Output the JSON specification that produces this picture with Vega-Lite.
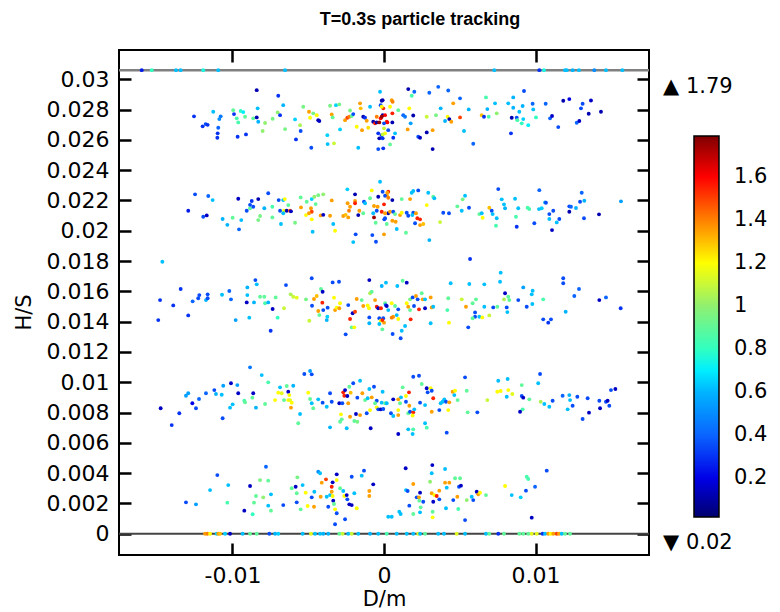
{
"$schema": "https://vega.github.io/schema/vega-lite/v6.json",
"width": 530, "height": 505,
"autosize": {"type": "none"},
"padding": {"left": 119, "top": 50, "right": 131, "bottom": 57},
"background": "white",
"title": {"text": "T=0.3s  particle tracking", "font": "Liberation Sans", "fontSize": 18, "fontWeight": "bold", "color": "black", "anchor": "middle", "dx": 36, "offset": 21},
"config": {
  "view": {"stroke": "black", "strokeWidth": 2},
  "axis": {"labelFont": "DejaVu Sans", "labelFontSize": 22, "labelColor": "black", "titleFont": "DejaVu Sans", "titleFontSize": 21, "titleFontWeight": "normal", "titleColor": "black", "domain": false}
},
"resolve": {"axis": {"x": "independent", "y": "independent"}},
"datasets": {"pts": [
{"x":-0.01599,"y":0.0306,"v":0.25},{"x":-0.01533,"y":0.0306,"v":0.8},{"x":-0.01373,"y":0.0306,"v":0.62},{"x":-0.01342,"y":0.0306,"v":0.62},{"x":-0.01193,"y":0.0306,"v":0.75},{"x":-0.01094,"y":0.0306,"v":0.62},{"x":-0.00653,"y":0.0306,"v":0.62},{"x":0.00728,"y":0.0306,"v":0.62},{"x":0.01025,"y":0.0306,"v":0.3},{"x":0.01056,"y":0.0306,"v":0.75},{"x":0.01195,"y":0.0306,"v":0.62},{"x":0.01206,"y":0.0306,"v":0.62},{"x":0.01245,"y":0.0306,"v":0.6},{"x":0.01287,"y":0.0306,"v":0.62},{"x":0.01388,"y":0.0306,"v":0.5},{"x":0.01465,"y":0.0306,"v":0.62},{"x":0.01573,"y":0.0306,"v":0.62},
{"x":-0.01181,"y":0,"v":1.35},{"x":-0.01166,"y":0,"v":1.4},{"x":-0.01148,"y":0,"v":1.2},{"x":-0.01104,"y":0,"v":0.65},{"x":-0.01094,"y":0,"v":1.35},{"x":-0.01082,"y":0,"v":1.3},{"x":-0.01049,"y":0,"v":0.65},{"x":-0.01016,"y":0,"v":0.15},{"x":-0.00933,"y":0,"v":0.62},{"x":-0.00884,"y":0,"v":0.9},{"x":-0.0084,"y":0,"v":0.9},{"x":-0.00757,"y":0,"v":0.35},{"x":-0.00719,"y":0,"v":0.6},{"x":-0.00698,"y":0,"v":0.65},{"x":-0.00537,"y":0,"v":0.62},{"x":-0.00482,"y":0,"v":1.15},{"x":-0.00455,"y":0,"v":0.62},{"x":-0.00422,"y":0,"v":0.62},{"x":-0.00401,"y":0,"v":0.6},{"x":-0.00368,"y":0,"v":0.6},{"x":-0.00295,"y":0,"v":0.9},{"x":-0.00273,"y":0,"v":1.1},{"x":-0.00236,"y":0,"v":0.62},{"x":-0.00213,"y":0,"v":1.1},{"x":-0.0017,"y":0,"v":0.62},{"x":-0.00092,"y":0,"v":0.6},{"x":-0.00038,"y":0,"v":0.62},{"x":0.00018,"y":0,"v":0.85},{"x":0.00084,"y":0,"v":0.62},{"x":0.0015,"y":0,"v":0.62},{"x":0.00193,"y":0,"v":0.62},{"x":0.00226,"y":0,"v":1.15},{"x":0.00238,"y":0,"v":0.62},{"x":0.00271,"y":0,"v":0.9},{"x":0.00358,"y":0,"v":0.62},{"x":0.00396,"y":0,"v":0.62},{"x":0.0048,"y":0,"v":1.15},{"x":0.00535,"y":0,"v":0.62},{"x":0.00673,"y":0,"v":0.62},{"x":0.00695,"y":0,"v":0.9},{"x":0.00754,"y":0,"v":0.3},{"x":0.00792,"y":0,"v":0.9},{"x":0.00893,"y":0,"v":0.9},{"x":0.00919,"y":0,"v":0.9},{"x":0.00952,"y":0,"v":0.9},{"x":0.00975,"y":0,"v":1.15},{"x":0.01008,"y":0,"v":1.15},{"x":0.01047,"y":0,"v":0.3},{"x":0.01063,"y":0,"v":0.62},{"x":0.01084,"y":0,"v":1.35},{"x":0.011,"y":0,"v":1.2},{"x":0.01117,"y":0,"v":1.35},{"x":0.0114,"y":0,"v":1.5},{"x":0.01155,"y":0,"v":1.35},{"x":0.01173,"y":0,"v":0.62},{"x":0.01195,"y":0,"v":0.9},{"x":0.01228,"y":0,"v":0.9},
{"x":-0.0084,"y":0.02928,"v":0.12},{"x":-0.00698,"y":0.02891,"v":0.3},{"x":-0.01254,"y":0.02755,"v":0.3},{"x":-0.01197,"y":0.02689,"v":0.3},{"x":-0.01177,"y":0.02704,"v":0.35},{"x":-0.01164,"y":0.02699,"v":0.3},{"x":-0.01127,"y":0.02785,"v":0.62},{"x":-0.01094,"y":0.0268,"v":0.4},{"x":-0.01098,"y":0.02643,"v":0.3},{"x":-0.011,"y":0.02614,"v":0.3},{"x":-0.01087,"y":0.02737,"v":0.5},{"x":-0.01078,"y":0.02755,"v":0.45},{"x":-0.00995,"y":0.02796,"v":0.9},{"x":-0.0099,"y":0.0277,"v":0.3},{"x":-0.00972,"y":0.02742,"v":0.85},{"x":-0.00962,"y":0.02715,"v":0.85},{"x":-0.00966,"y":0.0262,"v":0.3},{"x":-0.00946,"y":0.0279,"v":0.8},{"x":-0.00929,"y":0.02783,"v":0.7},{"x":-0.00911,"y":0.02636,"v":0.3},{"x":-0.00917,"y":0.02752,"v":0.9},{"x":-0.00863,"y":0.02742,"v":0.9},{"x":-0.0084,"y":0.02748,"v":0.12},{"x":-0.00834,"y":0.02808,"v":0.62},{"x":-0.0083,"y":0.02719,"v":0.6},{"x":-0.00801,"y":0.02658,"v":1.0},{"x":-0.00785,"y":0.02711,"v":1.0},{"x":-0.00735,"y":0.02739,"v":0.95},{"x":-0.00702,"y":0.02781,"v":1.0},{"x":-0.00686,"y":0.02763,"v":0.3},{"x":-0.00665,"y":0.02829,"v":0.6},{"x":-0.00653,"y":0.02671,"v":0.95},{"x":-0.00587,"y":0.02735,"v":0.65},{"x":-0.00581,"y":0.02603,"v":0.3},{"x":-0.00554,"y":0.02697,"v":1.05},{"x":-0.0055,"y":0.02658,"v":0.35},{"x":-0.00533,"y":0.02818,"v":0.95},{"x":-0.00495,"y":0.02785,"v":1.35},{"x":-0.00488,"y":0.02746,"v":1.2},{"x":-0.0048,"y":0.02548,"v":0.35},{"x":-0.00467,"y":0.02775,"v":0.95},{"x":-0.00444,"y":0.02763,"v":1.2},{"x":-0.00434,"y":0.0273,"v":0.12},{"x":-0.00427,"y":0.02724,"v":0.15},{"x":-0.00374,"y":0.02631,"v":0.65},{"x":-0.00372,"y":0.02572,"v":0.62},{"x":-0.00356,"y":0.02825,"v":0.95},{"x":-0.00345,"y":0.02768,"v":1.35},{"x":-0.00339,"y":0.02748,"v":0.9},{"x":-0.0033,"y":0.02577,"v":1.1},{"x":-0.00317,"y":0.02829,"v":0.65},{"x":-0.00295,"y":0.02834,"v":0.95},{"x":-0.0029,"y":0.02669,"v":0.65},{"x":-0.00257,"y":0.0273,"v":1.35},{"x":-0.00242,"y":0.02746,"v":1.5},{"x":-0.00229,"y":0.02752,"v":1.4},{"x":-0.00224,"y":0.02794,"v":0.95},{"x":-0.00213,"y":0.02757,"v":0.9},{"x":-0.00203,"y":0.0277,"v":0.35},{"x":-0.0018,"y":0.02686,"v":1.2},{"x":-0.0017,"y":0.02548,"v":0.62},{"x":-0.00158,"y":0.02841,"v":1.35},{"x":-0.00154,"y":0.02808,"v":1.3},{"x":-0.00145,"y":0.02664,"v":1.35},{"x":-0.00137,"y":0.02752,"v":0.12},{"x":-0.00125,"y":0.02746,"v":0.3},{"x":-0.00114,"y":0.02726,"v":1.35},{"x":-0.00104,"y":0.0268,"v":1.25},{"x":-0.00092,"y":0.02818,"v":0.62},{"x":-0.00071,"y":0.02719,"v":0.12},{"x":-0.00059,"y":0.02709,"v":1.55},{"x":-0.00048,"y":0.02715,"v":0.12},{"x":-0.00048,"y":0.02752,"v":1.4},{"x":-0.00038,"y":0.02643,"v":0.3},{"x":-0.00031,"y":0.0261,"v":0.12},{"x":-0.00026,"y":0.02917,"v":0.62},{"x":-0.00022,"y":0.02829,"v":0.35},{"x":-0.00015,"y":0.02858,"v":0.12},{"x":-0.00005,"y":0.02808,"v":1.55},{"x":-0.00009,"y":0.02763,"v":0.12},{"x":-0.00022,"y":0.02742,"v":1.6},{"x":-0.00031,"y":0.02715,"v":1.75},{"x":-0.00038,"y":0.02539,"v":0.35},{"x":-0.00005,"y":0.02544,"v":0.3},{"x":0.0,"y":0.02676,"v":1.1},{"x":-0.00015,"y":0.02631,"v":0.3},{"x":0.00007,"y":0.02643,"v":1.2},{"x":0.00018,"y":0.02719,"v":1.55},{"x":-0.00009,"y":0.02862,"v":0.12},{"x":-0.00015,"y":0.02818,"v":1.2},{"x":0.00051,"y":0.02862,"v":1.35},{"x":0.00057,"y":0.02851,"v":1.4},{"x":0.0004,"y":0.02818,"v":1.2},{"x":0.00007,"y":0.02763,"v":1.6},{"x":-0.00015,"y":0.02752,"v":1.75},{"x":0.00055,"y":0.02775,"v":1.55},{"x":0.00022,"y":0.02715,"v":1.6},{"x":0.00055,"y":0.02715,"v":0.12},{"x":0.0,"y":0.02709,"v":0.35},{"x":-0.00009,"y":0.02636,"v":1.1},{"x":0.00028,"y":0.02664,"v":0.35},{"x":0.00073,"y":0.02643,"v":0.62},{"x":0.00061,"y":0.02614,"v":0.3},{"x":0.0004,"y":0.0257,"v":0.9},{"x":-0.00009,"y":0.0261,"v":0.3},{"x":0.00094,"y":0.02796,"v":0.9},{"x":0.00127,"y":0.02763,"v":0.4},{"x":0.00139,"y":0.02752,"v":0.45},{"x":0.0016,"y":0.02935,"v":0.12},{"x":0.00183,"y":0.02891,"v":0.85},{"x":0.002,"y":0.02917,"v":0.4},{"x":0.00167,"y":0.02808,"v":1.2},{"x":0.00193,"y":0.02761,"v":0.12},{"x":0.00176,"y":0.02709,"v":0.55},{"x":0.00156,"y":0.02669,"v":1.35},{"x":0.00226,"y":0.0262,"v":0.35},{"x":0.00238,"y":0.02614,"v":0.15},{"x":0.00282,"y":0.02649,"v":0.12},{"x":0.00321,"y":0.02664,"v":1.35},{"x":0.00321,"y":0.02539,"v":0.12},{"x":0.00282,"y":0.02752,"v":1.1},{"x":0.00299,"y":0.02911,"v":0.4},{"x":0.00343,"y":0.02763,"v":0.95},{"x":0.00358,"y":0.0295,"v":0.4},{"x":0.00374,"y":0.02808,"v":0.6},{"x":0.00403,"y":0.02724,"v":0.6},{"x":0.0042,"y":0.02752,"v":1.2},{"x":0.00431,"y":0.02737,"v":0.12},{"x":0.00444,"y":0.02719,"v":1.35},{"x":0.00424,"y":0.02926,"v":0.4},{"x":0.00457,"y":0.02841,"v":1.35},{"x":0.00502,"y":0.02874,"v":0.4},{"x":0.00502,"y":0.02748,"v":1.5},{"x":0.00528,"y":0.02658,"v":0.62},{"x":0.00559,"y":0.02801,"v":0.6},{"x":0.00589,"y":0.02574,"v":0.4},{"x":0.00645,"y":0.02763,"v":1.3},{"x":0.0066,"y":0.02752,"v":0.3},{"x":0.00673,"y":0.0288,"v":0.85},{"x":0.00682,"y":0.02803,"v":0.6},{"x":0.00691,"y":0.02752,"v":0.85},{"x":0.00733,"y":0.02841,"v":0.62},{"x":0.00744,"y":0.02775,"v":1.0},{"x":0.0082,"y":0.02841,"v":0.62},{"x":0.00843,"y":0.02746,"v":0.12},{"x":0.00838,"y":0.02643,"v":0.3},{"x":0.00853,"y":0.0288,"v":0.6},{"x":0.00853,"y":0.02812,"v":0.6},{"x":0.00876,"y":0.02746,"v":0.35},{"x":0.0088,"y":0.0273,"v":0.85},{"x":0.00893,"y":0.02785,"v":0.62},{"x":0.00909,"y":0.02709,"v":0.8},{"x":0.00915,"y":0.02823,"v":0.6},{"x":0.00919,"y":0.02737,"v":0.65},{"x":0.00924,"y":0.02922,"v":0.35},{"x":0.00952,"y":0.02697,"v":0.7},{"x":0.00981,"y":0.02838,"v":0.4},{"x":0.00985,"y":0.02801,"v":0.62},{"x":0.01003,"y":0.02748,"v":0.8},{"x":0.01067,"y":0.02838,"v":0.4},{"x":0.01096,"y":0.02742,"v":0.4},{"x":0.01109,"y":0.02757,"v":0.15},{"x":0.0115,"y":0.02684,"v":0.35},{"x":0.01183,"y":0.02858,"v":0.12},{"x":0.01223,"y":0.02869,"v":0.2},{"x":0.01272,"y":0.02713,"v":0.4},{"x":0.01289,"y":0.02724,"v":0.15},{"x":0.013,"y":0.02808,"v":0.35},{"x":0.01311,"y":0.02838,"v":0.35},{"x":0.01351,"y":0.02772,"v":0.12},{"x":0.01366,"y":0.0286,"v":0.15},{"x":0.01432,"y":0.02785,"v":0.12},
{"x":-0.01247,"y":0.0224,"v":0.35},{"x":-0.0116,"y":0.02229,"v":0.4},{"x":-0.01131,"y":0.02202,"v":0.62},{"x":-0.01292,"y":0.02132,"v":0.25},{"x":-0.00962,"y":0.02211,"v":0.15},{"x":-0.00906,"y":0.02132,"v":0.35},{"x":-0.00884,"y":0.02148,"v":0.9},{"x":-0.00873,"y":0.02196,"v":0.3},{"x":-0.00863,"y":0.02158,"v":0.35},{"x":-0.0083,"y":0.02209,"v":0.12},{"x":-0.0079,"y":0.02148,"v":0.6},{"x":-0.00764,"y":0.02247,"v":0.35},{"x":-0.00737,"y":0.02158,"v":0.85},{"x":-0.00695,"y":0.02202,"v":0.35},{"x":-0.00665,"y":0.02202,"v":0.62},{"x":-0.00655,"y":0.02209,"v":1.2},{"x":-0.00686,"y":0.02132,"v":0.35},{"x":-0.0066,"y":0.02132,"v":1.2},{"x":-0.00642,"y":0.02132,"v":0.12},{"x":-0.0062,"y":0.02132,"v":1.5},{"x":-0.0055,"y":0.0222,"v":0.9},{"x":-0.00548,"y":0.02154,"v":1.35},{"x":-0.0051,"y":0.02191,"v":0.9},{"x":-0.00477,"y":0.02209,"v":0.65},{"x":-0.00482,"y":0.02148,"v":1.35},{"x":-0.0046,"y":0.02224,"v":1.0},{"x":-0.00477,"y":0.02125,"v":1.5},{"x":-0.00434,"y":0.02235,"v":0.95},{"x":-0.00401,"y":0.0224,"v":1.0},{"x":-0.00345,"y":0.022,"v":1.35},{"x":-0.00242,"y":0.02273,"v":0.65},{"x":-0.0024,"y":0.02181,"v":1.35},{"x":-0.00231,"y":0.02132,"v":1.4},{"x":-0.00191,"y":0.0224,"v":0.12},{"x":-0.00191,"y":0.02196,"v":1.35},{"x":-0.00163,"y":0.02132,"v":1.35},{"x":-0.00132,"y":0.02191,"v":0.35},{"x":-0.00092,"y":0.02214,"v":0.9},{"x":-0.00081,"y":0.02266,"v":1.2},{"x":-0.00066,"y":0.02163,"v":1.35},{"x":-0.00038,"y":0.02224,"v":0.12},{"x":-0.00026,"y":0.02323,"v":0.62},{"x":-0.00009,"y":0.02257,"v":0.35},{"x":0.0,"y":0.02174,"v":1.55},{"x":0.00018,"y":0.02235,"v":1.35},{"x":0.00028,"y":0.02257,"v":1.55},{"x":-0.00048,"y":0.02132,"v":0.35},
{"x":-0.01193,"y":0.02092,"v":0.35},{"x":-0.0117,"y":0.02101,"v":0.15},{"x":-0.01065,"y":0.02077,"v":0.6},{"x":-0.01034,"y":0.02039,"v":0.6},{"x":-0.00999,"y":0.02086,"v":0.9},{"x":-0.00957,"y":0.02009,"v":0.4},{"x":-0.00942,"y":0.0207,"v":0.62},{"x":-0.00884,"y":0.02171,"v":0.35},{"x":-0.0083,"y":0.0207,"v":0.95},{"x":-0.00818,"y":0.02097,"v":0.95},{"x":-0.00737,"y":0.02088,"v":0.9},{"x":-0.0068,"y":0.02044,"v":0.62},{"x":-0.00665,"y":0.02115,"v":0.62},{"x":-0.00632,"y":0.02169,"v":0.9},{"x":-0.00614,"y":0.02128,"v":0.15},{"x":-0.00587,"y":0.02053,"v":0.95},{"x":-0.00515,"y":0.02103,"v":1.2},{"x":-0.00495,"y":0.02115,"v":1.35},{"x":-0.00477,"y":0.02075,"v":1.2},{"x":-0.00471,"y":0.01993,"v":0.62},{"x":-0.00451,"y":0.02176,"v":0.9},{"x":-0.00418,"y":0.02101,"v":1.35},{"x":-0.00401,"y":0.02105,"v":0.15},{"x":-0.00356,"y":0.02099,"v":1.35},{"x":-0.00335,"y":0.02044,"v":0.62},{"x":-0.00323,"y":0.02,"v":1.2},{"x":-0.00269,"y":0.02097,"v":1.35},{"x":-0.00253,"y":0.02105,"v":1.3},{"x":-0.00236,"y":0.02088,"v":1.35},{"x":-0.00224,"y":0.02158,"v":1.35},{"x":-0.00191,"y":0.02181,"v":1.55},{"x":-0.00187,"y":0.01976,"v":0.35},{"x":-0.00203,"y":0.01925,"v":0.62},{"x":-0.0017,"y":0.02103,"v":0.12},{"x":-0.00137,"y":0.02115,"v":0.9},{"x":-0.00125,"y":0.02181,"v":0.62},{"x":-0.00077,"y":0.01971,"v":0.35},{"x":-0.00071,"y":0.02115,"v":0.62},{"x":-0.00066,"y":0.02088,"v":1.75},{"x":-0.00053,"y":0.01927,"v":0.35},{"x":-0.00055,"y":0.02053,"v":0.9},{"x":-0.00042,"y":0.02158,"v":1.35},{"x":0.0,"y":0.01976,"v":1.35},{"x":0.00002,"y":0.02075,"v":0.35},{"x":0.00028,"y":0.02115,"v":0.12},{"x":0.00018,"y":0.02044,"v":0.9},
{"x":0.00007,"y":0.02231,"v":0.35},{"x":0.00022,"y":0.02251,"v":1.35},{"x":0.00028,"y":0.02218,"v":1.4},{"x":0.00055,"y":0.02202,"v":0.12},{"x":0.00117,"y":0.02209,"v":0.9},{"x":0.00172,"y":0.02209,"v":1.35},{"x":0.00183,"y":0.02251,"v":0.62},{"x":0.00193,"y":0.02262,"v":0.62},{"x":0.00226,"y":0.02266,"v":0.35},{"x":0.00292,"y":0.02251,"v":0.62},{"x":0.00325,"y":0.02224,"v":0.9},{"x":0.00332,"y":0.02214,"v":0.62},{"x":0.00282,"y":0.02169,"v":1.2},{"x":0.00535,"y":0.02231,"v":0.62},{"x":0.00519,"y":0.02207,"v":0.95},{"x":0.00484,"y":0.02161,"v":0.9},{"x":0.00561,"y":0.02152,"v":0.35},{"x":0.00513,"y":0.02132,"v":0.62},{"x":0.00754,"y":0.02275,"v":0.35},{"x":0.00777,"y":0.02207,"v":0.62},{"x":0.00792,"y":0.02174,"v":0.62},{"x":0.00799,"y":0.02148,"v":0.6},{"x":0.00695,"y":0.02152,"v":1.3},{"x":0.00711,"y":0.02132,"v":0.35},{"x":0.00865,"y":0.02211,"v":0.62},{"x":0.00886,"y":0.02148,"v":0.62},{"x":0.00948,"y":0.02152,"v":0.85},{"x":0.01025,"y":0.02268,"v":0.4},{"x":0.01041,"y":0.02148,"v":0.65},{"x":0.01063,"y":0.02187,"v":0.6},{"x":0.01117,"y":0.02132,"v":0.35},{"x":0.01223,"y":0.02161,"v":0.35},{"x":0.01234,"y":0.02158,"v":0.4},{"x":0.01267,"y":0.0215,"v":0.6},{"x":0.01294,"y":0.02191,"v":0.35},{"x":0.01305,"y":0.02251,"v":0.4},{"x":0.01322,"y":0.02198,"v":0.6},{"x":0.01419,"y":0.02108,"v":0.12},{"x":0.01564,"y":0.02194,"v":0.55},{"x":0.00391,"y":0.02119,"v":0.35},{"x":0.00429,"y":0.02115,"v":0.35},{"x":0.0015,"y":0.02119,"v":0.35},{"x":0.00193,"y":0.02119,"v":0.35},{"x":0.0004,"y":0.02125,"v":1.35},{"x":0.00061,"y":0.02125,"v":0.35},
{"x":-0.00015,"y":0.02125,"v":1.55},{"x":0.00007,"y":0.02115,"v":1.35},{"x":0.00073,"y":0.0211,"v":0.9},{"x":0.00007,"y":0.02082,"v":0.35},{"x":0.00055,"y":0.02066,"v":1.35},{"x":0.00077,"y":0.02059,"v":1.35},{"x":0.00084,"y":0.02011,"v":0.62},{"x":0.00106,"y":0.02103,"v":1.35},{"x":0.00117,"y":0.02119,"v":1.2},{"x":0.00145,"y":0.01987,"v":0.9},{"x":0.0016,"y":0.02099,"v":0.35},{"x":0.00187,"y":0.02103,"v":0.62},{"x":0.00205,"y":0.02049,"v":0.35},{"x":0.00211,"y":0.02115,"v":1.35},{"x":0.0022,"y":0.02082,"v":1.55},{"x":0.00238,"y":0.02075,"v":1.55},{"x":0.00238,"y":0.02037,"v":1.35},{"x":0.00259,"y":0.02044,"v":1.3},{"x":0.00299,"y":0.01938,"v":0.6},{"x":0.0037,"y":0.02057,"v":1.1},{"x":0.00629,"y":0.0211,"v":0.9},{"x":0.00645,"y":0.02115,"v":0.62},{"x":0.00651,"y":0.02086,"v":1.2},{"x":0.00717,"y":0.0211,"v":0.62},{"x":0.00739,"y":0.02033,"v":0.85},{"x":0.00744,"y":0.02082,"v":0.62},{"x":0.00871,"y":0.02092,"v":0.85},{"x":0.00876,"y":0.02026,"v":0.3},{"x":0.00959,"y":0.02143,"v":0.85},{"x":0.00992,"y":0.02049,"v":0.35},{"x":0.01023,"y":0.02143,"v":0.62},{"x":0.01069,"y":0.02185,"v":0.35},{"x":0.01091,"y":0.0211,"v":0.35},{"x":0.01091,"y":0.02077,"v":0.62},{"x":0.0114,"y":0.02055,"v":0.62},{"x":0.01157,"y":0.02077,"v":0.35},{"x":0.01109,"y":0.02004,"v":0.15},{"x":0.01223,"y":0.02125,"v":0.12},{"x":0.0132,"y":0.02082,"v":0.35},
{"x":-0.01463,"y":0.01795,"v":0.62},{"x":-0.01478,"y":0.01542,"v":0.3},{"x":-0.0149,"y":0.0141,"v":0.3},{"x":-0.01391,"y":0.01507,"v":0.3},{"x":-0.01342,"y":0.01615,"v":0.3},{"x":-0.01292,"y":0.01441,"v":0.3},{"x":-0.01263,"y":0.01534,"v":0.4},{"x":-0.01226,"y":0.01554,"v":0.35},{"x":-0.01219,"y":0.01575,"v":0.35},{"x":-0.01175,"y":0.01542,"v":0.6},{"x":-0.01164,"y":0.0158,"v":0.35},{"x":-0.01164,"y":0.01554,"v":0.35},{"x":-0.01069,"y":0.01577,"v":0.62},{"x":-0.01021,"y":0.01602,"v":0.4},{"x":-0.0101,"y":0.01547,"v":0.4},{"x":-0.00979,"y":0.0141,"v":0.55},{"x":-0.00906,"y":0.01527,"v":0.15},{"x":-0.00902,"y":0.01626,"v":0.6},{"x":-0.00902,"y":0.01575,"v":0.62},{"x":-0.00889,"y":0.01426,"v":0.62},{"x":-0.00849,"y":0.01674,"v":0.35},{"x":-0.0084,"y":0.01646,"v":0.62},{"x":-0.00858,"y":0.01527,"v":0.6},{"x":-0.00818,"y":0.01564,"v":0.9},{"x":-0.0079,"y":0.01564,"v":0.9},{"x":-0.00785,"y":0.01521,"v":0.85},{"x":-0.00764,"y":0.01527,"v":0.6},{"x":-0.00735,"y":0.01483,"v":0.15},{"x":-0.00748,"y":0.0134,"v":0.3},{"x":-0.00715,"y":0.0156,"v":0.9},{"x":-0.00702,"y":0.01426,"v":0.8},{"x":-0.0066,"y":0.01488,"v":1.1},{"x":-0.00647,"y":0.01641,"v":0.35},{"x":-0.00616,"y":0.0158,"v":1.05},{"x":-0.00599,"y":0.01564,"v":1.1},{"x":-0.00576,"y":0.01558,"v":1.15},{"x":-0.00515,"y":0.01547,"v":0.95},{"x":-0.00493,"y":0.01406,"v":1.1},{"x":-0.00477,"y":0.01686,"v":0.35},{"x":-0.00475,"y":0.01505,"v":0.35},{"x":-0.00462,"y":0.01549,"v":1.35},{"x":-0.00444,"y":0.01569,"v":1.3},{"x":-0.00434,"y":0.0147,"v":1.35},{"x":-0.00427,"y":0.01443,"v":0.9},{"x":-0.00416,"y":0.01615,"v":0.9},{"x":-0.00407,"y":0.01525,"v":1.55},{"x":-0.00405,"y":0.01597,"v":0.15},{"x":-0.00401,"y":0.01476,"v":0.35},{"x":-0.00378,"y":0.0141,"v":0.6},{"x":-0.00374,"y":0.01432,"v":0.65},{"x":-0.00372,"y":0.01492,"v":0.35},{"x":-0.00339,"y":0.01659,"v":0.35},{"x":-0.0033,"y":0.01558,"v":1.2},{"x":-0.00323,"y":0.01476,"v":1.35},{"x":-0.00312,"y":0.01492,"v":1.2},{"x":-0.00297,"y":0.01663,"v":0.35},{"x":-0.00295,"y":0.01488,"v":1.35},{"x":-0.0029,"y":0.01521,"v":1.2},{"x":-0.00253,"y":0.01316,"v":0.35},{"x":-0.00236,"y":0.01509,"v":0.35},{"x":-0.00224,"y":0.01417,"v":1.55},{"x":-0.00213,"y":0.01362,"v":0.9},{"x":-0.00207,"y":0.01455,"v":0.15},{"x":-0.00196,"y":0.01362,"v":1.2},{"x":-0.00191,"y":0.01465,"v":1.5},{"x":-0.0018,"y":0.01549,"v":1.35},{"x":-0.00147,"y":0.01542,"v":0.9},{"x":-0.00137,"y":0.01503,"v":1.35},{"x":-0.00108,"y":0.01507,"v":1.2},{"x":-0.00099,"y":0.01488,"v":1.2},{"x":-0.00097,"y":0.01674,"v":0.15},{"x":-0.00097,"y":0.01428,"v":0.35},{"x":-0.00097,"y":0.01389,"v":0.6},{"x":-0.00092,"y":0.01587,"v":1.05},{"x":-0.00081,"y":0.01597,"v":0.9},{"x":-0.00059,"y":0.01542,"v":1.35},{"x":-0.00048,"y":0.01498,"v":1.55},{"x":-0.00038,"y":0.01488,"v":0.15},{"x":-0.00031,"y":0.01422,"v":0.35},{"x":-0.00022,"y":0.01406,"v":1.2},{"x":-0.00031,"y":0.01384,"v":0.62},{"x":-0.00011,"y":0.01349,"v":0.9},{"x":-0.00005,"y":0.01422,"v":0.35},{"x":0.0,"y":0.01393,"v":1.35},{"x":0.00007,"y":0.01521,"v":0.9},{"x":0.00013,"y":0.01657,"v":0.62},{"x":0.00011,"y":0.01509,"v":0.35},{"x":0.00028,"y":0.01476,"v":0.62},
{"x":0.00568,"y":0.01813,"v":0.3},{"x":0.0077,"y":0.01723,"v":0.62},{"x":0.00766,"y":0.01663,"v":0.62},{"x":-0.00015,"y":0.01635,"v":0.6},{"x":0.00088,"y":0.01635,"v":0.62},{"x":0.00123,"y":0.0167,"v":0.9},{"x":0.0015,"y":0.01657,"v":0.15},{"x":0.0044,"y":0.01653,"v":0.62},{"x":0.00563,"y":0.01648,"v":0.62},{"x":0.00662,"y":0.01646,"v":0.62},{"x":0.01183,"y":0.01686,"v":0.35},{"x":0.01183,"y":0.01653,"v":0.35},{"x":0.01287,"y":0.01615,"v":0.4},{"x":0.00919,"y":0.01626,"v":0.55},{"x":0.00981,"y":0.01604,"v":0.62},{"x":0.00975,"y":0.0158,"v":0.62},{"x":0.00799,"y":0.01587,"v":0.15},{"x":0.0082,"y":0.01564,"v":0.9},{"x":0.00827,"y":0.01542,"v":0.9},{"x":0.00886,"y":0.01542,"v":0.35},{"x":0.00792,"y":0.01547,"v":1.05},{"x":0.01256,"y":0.01569,"v":0.4},{"x":0.01465,"y":0.0156,"v":0.4},{"x":0.01421,"y":0.01542,"v":0.15},{"x":0.01562,"y":0.01488,"v":0.3},{"x":0.01199,"y":0.01465,"v":0.6},{"x":0.01051,"y":0.01547,"v":0.85},{"x":0.00942,"y":0.01498,"v":0.35},{"x":0.00979,"y":0.01516,"v":0.62},{"x":0.00018,"y":0.01503,"v":0.15},{"x":-0.0002,"y":0.01488,"v":1.55},{"x":0.00051,"y":0.01521,"v":1.2},{"x":0.00073,"y":0.01503,"v":0.9},{"x":0.00094,"y":0.01481,"v":0.35},{"x":0.00084,"y":0.01443,"v":0.62},{"x":0.00061,"y":0.01432,"v":1.35},{"x":0.00051,"y":0.01426,"v":1.4},{"x":0.00094,"y":0.01417,"v":1.2},{"x":-0.00011,"y":0.0141,"v":1.55},{"x":0.00057,"y":0.01318,"v":0.35},{"x":0.0011,"y":0.0129,"v":0.35},{"x":0.00117,"y":0.0134,"v":0.62},{"x":0.00139,"y":0.01371,"v":0.62},{"x":0.0015,"y":0.01521,"v":1.2},{"x":0.0016,"y":0.01498,"v":1.35},{"x":0.00172,"y":0.01547,"v":0.95},{"x":0.00189,"y":0.0156,"v":0.35},{"x":0.00198,"y":0.01503,"v":0.35},{"x":0.00172,"y":0.01476,"v":0.9},{"x":0.00176,"y":0.01415,"v":1.55},{"x":0.00211,"y":0.01569,"v":1.35},{"x":0.00222,"y":0.01547,"v":0.35},{"x":0.00231,"y":0.01481,"v":1.55},{"x":0.00249,"y":0.01587,"v":0.9},{"x":0.00255,"y":0.01547,"v":1.35},{"x":0.00271,"y":0.01547,"v":0.62},{"x":0.00271,"y":0.01488,"v":0.15},{"x":0.00308,"y":0.0156,"v":1.35},{"x":0.00315,"y":0.01494,"v":1.35},{"x":0.00325,"y":0.01498,"v":0.62},{"x":0.00308,"y":0.01389,"v":0.62},{"x":0.00424,"y":0.01554,"v":0.9},{"x":0.00418,"y":0.01476,"v":0.85},{"x":0.00429,"y":0.01393,"v":1.2},{"x":0.00513,"y":0.01547,"v":1.1},{"x":0.00541,"y":0.01498,"v":1.35},{"x":0.00585,"y":0.01521,"v":0.9},{"x":0.00607,"y":0.01547,"v":0.9},{"x":0.00601,"y":0.01461,"v":0.35},{"x":0.00601,"y":0.01432,"v":0.35},{"x":0.00585,"y":0.01422,"v":0.9},{"x":0.00629,"y":0.01432,"v":0.62},{"x":0.00649,"y":0.01428,"v":1.2},{"x":0.00662,"y":0.01498,"v":0.62},{"x":0.00695,"y":0.01441,"v":1.1},{"x":0.00721,"y":0.01494,"v":0.35},{"x":0.00748,"y":0.01498,"v":0.9},{"x":0.0081,"y":0.01494,"v":0.35},{"x":0.00814,"y":0.01463,"v":0.62},{"x":0.00556,"y":0.01362,"v":0.35},{"x":0.01051,"y":0.01415,"v":0.35},{"x":0.01084,"y":0.01393,"v":0.3},{"x":0.01102,"y":0.01415,"v":0.35},
{"x":-0.00884,"y":0.01098,"v":0.45},{"x":-0.00807,"y":0.01047,"v":0.62},{"x":-0.00526,"y":0.01054,"v":0.35},{"x":-0.00488,"y":0.01074,"v":0.55},{"x":-0.00477,"y":0.01052,"v":0.35},{"x":-0.01474,"y":0.00828,"v":0.15},{"x":-0.01401,"y":0.00717,"v":0.3},{"x":-0.01351,"y":0.00795,"v":0.3},{"x":-0.01307,"y":0.00911,"v":0.55},{"x":-0.01292,"y":0.00927,"v":0.55},{"x":-0.01265,"y":0.00861,"v":0.2},{"x":-0.01241,"y":0.00828,"v":0.35},{"x":-0.01221,"y":0.00889,"v":0.4},{"x":-0.01175,"y":0.00927,"v":0.4},{"x":-0.0112,"y":0.00948,"v":0.35},{"x":-0.01109,"y":0.00922,"v":0.6},{"x":-0.01071,"y":0.00917,"v":0.62},{"x":-0.01065,"y":0.00762,"v":0.35},{"x":-0.01061,"y":0.00977,"v":0.55},{"x":-0.0101,"y":0.00993,"v":0.15},{"x":-0.01016,"y":0.00832,"v":0.62},{"x":-0.00999,"y":0.00854,"v":0.62},{"x":-0.00968,"y":0.00981,"v":0.55},{"x":-0.00962,"y":0.00927,"v":0.15},{"x":-0.00922,"y":0.00878,"v":0.85},{"x":-0.00917,"y":0.00867,"v":0.9},{"x":-0.00869,"y":0.00898,"v":0.9},{"x":-0.00863,"y":0.00927,"v":0.15},{"x":-0.00845,"y":0.00832,"v":0.6},{"x":-0.00785,"y":0.00856,"v":0.9},{"x":-0.00764,"y":0.00999,"v":0.85},{"x":-0.00719,"y":0.00882,"v":1.2},{"x":-0.00698,"y":0.00931,"v":1.2},{"x":-0.00686,"y":0.00966,"v":0.62},{"x":-0.00675,"y":0.00927,"v":1.15},{"x":-0.0066,"y":0.00882,"v":0.9},{"x":-0.00642,"y":0.00975,"v":0.9},{"x":-0.00632,"y":0.00937,"v":0.15},{"x":-0.00632,"y":0.00882,"v":1.2},{"x":-0.00625,"y":0.00915,"v":1.2},{"x":-0.0062,"y":0.00882,"v":1.15},{"x":-0.00614,"y":0.00832,"v":1.35},{"x":-0.00609,"y":0.00865,"v":1.2},{"x":-0.00599,"y":0.00977,"v":0.6},{"x":-0.00566,"y":0.00729,"v":0.9},{"x":-0.00554,"y":0.0079,"v":0.62},{"x":-0.005,"y":0.00931,"v":1.2},{"x":-0.00488,"y":0.00889,"v":0.9},{"x":-0.00477,"y":0.00861,"v":0.62},{"x":-0.00467,"y":0.00828,"v":0.9},{"x":-0.00434,"y":0.00887,"v":0.62},{"x":-0.00405,"y":0.00865,"v":0.35},{"x":-0.00378,"y":0.00838,"v":0.62},{"x":-0.00356,"y":0.00927,"v":0.35},{"x":-0.00356,"y":0.00702,"v":0.6},{"x":-0.00345,"y":0.00871,"v":0.35},{"x":-0.00295,"y":0.00861,"v":0.15},{"x":-0.0029,"y":0.00739,"v":0.9},{"x":-0.00284,"y":0.00788,"v":1.2},{"x":-0.00279,"y":0.00755,"v":0.9},{"x":-0.00269,"y":0.00933,"v":1.55},{"x":-0.00262,"y":0.00911,"v":1.55},{"x":-0.00275,"y":0.00861,"v":0.35},{"x":-0.00257,"y":0.00948,"v":0.15},{"x":-0.00246,"y":0.00696,"v":0.62},{"x":-0.00242,"y":0.00909,"v":0.15},{"x":-0.00236,"y":0.00861,"v":1.35},{"x":-0.00229,"y":0.0097,"v":0.9},{"x":-0.00224,"y":0.00772,"v":1.35},{"x":-0.0022,"y":0.00931,"v":1.3},{"x":-0.00203,"y":0.00993,"v":0.35},{"x":-0.00196,"y":0.00744,"v":0.9},{"x":-0.00185,"y":0.0079,"v":0.15},{"x":-0.00176,"y":0.00739,"v":0.95},{"x":-0.00176,"y":0.00898,"v":0.35},{"x":-0.00158,"y":0.0101,"v":0.62},{"x":-0.00158,"y":0.00783,"v":1.35},{"x":-0.00143,"y":0.00927,"v":1.35},{"x":-0.00125,"y":0.00882,"v":0.9},{"x":-0.00114,"y":0.00795,"v":0.35},{"x":-0.00108,"y":0.00894,"v":0.62},{"x":-0.00097,"y":0.00955,"v":0.62},{"x":-0.00092,"y":0.00816,"v":1.2},{"x":-0.00088,"y":0.00696,"v":0.15},{"x":-0.00081,"y":0.009,"v":1.35},{"x":-0.00066,"y":0.0097,"v":0.35},{"x":-0.00048,"y":0.00878,"v":0.35},{"x":-0.00059,"y":0.00861,"v":0.9},{"x":-0.00048,"y":0.00834,"v":1.2},{"x":-0.00038,"y":0.00821,"v":0.35},{"x":-0.00022,"y":0.00821,"v":0.15},{"x":-0.00015,"y":0.00865,"v":0.62},{"x":-0.00009,"y":0.00937,"v":0.62},{"x":-0.00005,"y":0.00823,"v":0.35},{"x":0.00007,"y":0.00861,"v":0.9},
{"x":0.00193,"y":0.01036,"v":0.35},{"x":0.00231,"y":0.01043,"v":0.35},{"x":0.00249,"y":0.00988,"v":0.9},{"x":0.00282,"y":0.0096,"v":0.15},{"x":0.00308,"y":0.0096,"v":1.2},{"x":0.00288,"y":0.00933,"v":0.35},{"x":0.00315,"y":0.00944,"v":0.35},{"x":0.00123,"y":0.00966,"v":0.9},{"x":0.00165,"y":0.00933,"v":1.55},{"x":0.00145,"y":0.00909,"v":1.2},{"x":0.00112,"y":0.009,"v":0.62},{"x":0.00094,"y":0.00887,"v":1.35},{"x":0.00061,"y":0.00887,"v":0.15},{"x":0.00018,"y":0.00861,"v":0.62},{"x":0.00046,"y":0.00795,"v":0.35},{"x":0.00061,"y":0.00777,"v":0.62},{"x":0.00094,"y":0.00816,"v":1.2},{"x":0.00094,"y":0.00783,"v":1.35},{"x":0.00106,"y":0.00861,"v":0.9},{"x":0.00145,"y":0.00871,"v":0.35},{"x":0.00167,"y":0.00845,"v":1.35},{"x":0.0016,"y":0.00795,"v":0.9},{"x":0.00172,"y":0.00805,"v":0.35},{"x":0.00193,"y":0.00801,"v":1.55},{"x":0.002,"y":0.00821,"v":0.62},{"x":0.00189,"y":0.0078,"v":1.2},{"x":0.00238,"y":0.00865,"v":0.35},{"x":0.00271,"y":0.00849,"v":0.62},{"x":0.00325,"y":0.00894,"v":1.55},{"x":0.00315,"y":0.00805,"v":1.35},{"x":0.00365,"y":0.00816,"v":0.35},{"x":0.00374,"y":0.00861,"v":0.62},{"x":0.00387,"y":0.00871,"v":0.62},{"x":0.00398,"y":0.00887,"v":0.62},{"x":0.00409,"y":0.00871,"v":0.35},{"x":0.00431,"y":0.00867,"v":1.35},{"x":0.00424,"y":0.00816,"v":1.2},{"x":0.00453,"y":0.00937,"v":1.35},{"x":0.00469,"y":0.00944,"v":1.2},{"x":0.00464,"y":0.00915,"v":0.62},{"x":0.00486,"y":0.00882,"v":0.9},{"x":0.00535,"y":0.01032,"v":0.35},{"x":0.00546,"y":0.00944,"v":0.9},{"x":0.00552,"y":0.00801,"v":0.9},{"x":0.00616,"y":0.00801,"v":0.35},{"x":0.00682,"y":0.00882,"v":1.1},{"x":0.00754,"y":0.0101,"v":0.62},{"x":0.00816,"y":0.01021,"v":0.62},{"x":0.00748,"y":0.00937,"v":1.2},{"x":0.0077,"y":0.00942,"v":1.2},{"x":0.0082,"y":0.00948,"v":1.2},{"x":0.0081,"y":0.00904,"v":0.62},{"x":0.00847,"y":0.00922,"v":1.15},{"x":0.00909,"y":0.00981,"v":0.9},{"x":0.00909,"y":0.00909,"v":0.35},{"x":0.00919,"y":0.00898,"v":0.15},{"x":0.00915,"y":0.00821,"v":0.85},{"x":0.00898,"y":0.00805,"v":0.15},{"x":0.00959,"y":0.00887,"v":0.9},{"x":0.01018,"y":0.00993,"v":0.62},{"x":0.0103,"y":0.01054,"v":0.35},{"x":0.01034,"y":0.00871,"v":1.05},{"x":0.01058,"y":0.00856,"v":0.62},{"x":0.01091,"y":0.00838,"v":0.62},{"x":0.01113,"y":0.00878,"v":0.35},{"x":0.01179,"y":0.00911,"v":0.4},{"x":0.01212,"y":0.00821,"v":0.62},{"x":0.01223,"y":0.00915,"v":0.6},{"x":0.01228,"y":0.00882,"v":0.62},{"x":0.01245,"y":0.00845,"v":0.35},{"x":0.01276,"y":0.00904,"v":0.35},{"x":0.01311,"y":0.00757,"v":0.35},{"x":0.01344,"y":0.00894,"v":0.35},{"x":0.01353,"y":0.00799,"v":0.15},{"x":0.01421,"y":0.00878,"v":0.35},{"x":0.01426,"y":0.00828,"v":0.15},{"x":0.01465,"y":0.00871,"v":0.35},{"x":0.01476,"y":0.00878,"v":0.15},{"x":0.01487,"y":0.00845,"v":0.35},{"x":0.01498,"y":0.00948,"v":0.35},{"x":0.01527,"y":0.00955,"v":0.15},{"x":0.00094,"y":0.00658,"v":0.15},{"x":0.0016,"y":0.00689,"v":0.62},{"x":0.00189,"y":0.00658,"v":0.62},{"x":0.00193,"y":0.00689,"v":0.85},{"x":0.00271,"y":0.00729,"v":0.62},{"x":0.00282,"y":0.007,"v":0.85},{"x":0.00414,"y":0.00667,"v":0.35},
{"x":-0.00779,"y":0.00442,"v":0.4},{"x":-0.011,"y":0.00387,"v":0.35},{"x":-0.01148,"y":0.00288,"v":0.62},{"x":-0.01307,"y":0.00207,"v":0.35},{"x":-0.01241,"y":0.00194,"v":0.55},{"x":-0.01028,"y":0.00321,"v":0.62},{"x":-0.01034,"y":0.00205,"v":0.85},{"x":-0.00884,"y":0.00315,"v":0.15},{"x":-0.00922,"y":0.00152,"v":0.15},{"x":-0.00867,"y":0.00128,"v":0.8},{"x":-0.00845,"y":0.00249,"v":0.9},{"x":-0.00858,"y":0.00205,"v":0.9},{"x":-0.00818,"y":0.00354,"v":0.95},{"x":-0.00797,"y":0.0024,"v":1.0},{"x":-0.00764,"y":0.0035,"v":0.9},{"x":-0.00746,"y":0.0026,"v":0.62},{"x":-0.00764,"y":0.00185,"v":0.62},{"x":-0.00746,"y":0.00152,"v":0.9},{"x":-0.00665,"y":0.00189,"v":0.35},{"x":-0.00609,"y":0.003,"v":0.9},{"x":-0.00572,"y":0.00372,"v":0.95},{"x":-0.00583,"y":0.0031,"v":0.15},{"x":-0.00576,"y":0.00267,"v":0.9},{"x":-0.00576,"y":0.00207,"v":0.35},{"x":-0.0055,"y":0.00161,"v":0.9},{"x":-0.00537,"y":0.00321,"v":0.62},{"x":-0.00517,"y":0.00271,"v":1.2},{"x":-0.00504,"y":0.00183,"v":1.2},{"x":-0.00477,"y":0.0024,"v":0.35},{"x":-0.0046,"y":0.00277,"v":0.62},{"x":-0.00462,"y":0.00178,"v":1.35},{"x":-0.00434,"y":0.00409,"v":0.5},{"x":-0.00422,"y":0.00399,"v":0.62},{"x":-0.00411,"y":0.00337,"v":1.35},{"x":-0.00383,"y":0.00359,"v":1.5},{"x":-0.00378,"y":0.00244,"v":0.62},{"x":-0.00418,"y":0.00244,"v":1.35},{"x":-0.00368,"y":0.00178,"v":0.35},{"x":-0.00356,"y":0.00255,"v":0.62},{"x":-0.00345,"y":0.0031,"v":1.55},{"x":-0.00345,"y":0.00277,"v":1.35},{"x":-0.00339,"y":0.00339,"v":0.15},{"x":-0.00339,"y":0.00249,"v":1.2},{"x":-0.00335,"y":0.00218,"v":0.15},{"x":-0.0033,"y":0.00196,"v":0.9},{"x":-0.00323,"y":0.00161,"v":1.2},{"x":-0.00312,"y":0.00392,"v":0.15},{"x":-0.00312,"y":0.00354,"v":1.2},{"x":-0.00312,"y":0.00135,"v":0.35},{"x":-0.00323,"y":0.00062,"v":0.35},{"x":-0.0029,"y":0.003,"v":0.9},{"x":-0.00269,"y":0.00282,"v":0.62},{"x":-0.00262,"y":0.00249,"v":1.2},{"x":-0.00257,"y":0.00095,"v":0.35},{"x":-0.00242,"y":0.00227,"v":0.35},{"x":-0.00246,"y":0.00255,"v":0.15},{"x":-0.00229,"y":0.00194,"v":0.15},{"x":-0.00213,"y":0.00376,"v":0.35},{"x":-0.00213,"y":0.00189,"v":0.15},{"x":-0.00196,"y":0.00267,"v":0.62},{"x":-0.0018,"y":0.00168,"v":1.2},{"x":-0.00147,"y":0.00383,"v":0.62},{"x":-0.00132,"y":0.00416,"v":0.35},{"x":-0.00097,"y":0.00282,"v":1.35},{"x":-0.00097,"y":0.00249,"v":1.35},{"x":-0.00071,"y":0.00326,"v":0.15},{"x":0.00028,"y":0.00112,"v":0.62},
{"x":0.00143,"y":0.00432,"v":0.15},{"x":0.00319,"y":0.00453,"v":0.15},{"x":0.00315,"y":0.00399,"v":0.62},{"x":0.00403,"y":0.00427,"v":0.62},{"x":0.00145,"y":0.00288,"v":0.62},{"x":0.00156,"y":0.00282,"v":0.35},{"x":0.00193,"y":0.00328,"v":1.35},{"x":0.00238,"y":0.00271,"v":0.15},{"x":0.00216,"y":0.0024,"v":0.35},{"x":0.00231,"y":0.0024,"v":1.35},{"x":0.00233,"y":0.00218,"v":0.9},{"x":0.00259,"y":0.00211,"v":0.35},{"x":0.00242,"y":0.00174,"v":0.9},{"x":0.00193,"y":0.0013,"v":0.9},{"x":0.00238,"y":0.00141,"v":0.62},{"x":0.00167,"y":0.00185,"v":0.35},{"x":0.00101,"y":0.00145,"v":0.62},{"x":0.0011,"y":0.0013,"v":0.62},{"x":0.00051,"y":0.00112,"v":0.62},{"x":0.00304,"y":0.00343,"v":1.0},{"x":0.00315,"y":0.00267,"v":1.35},{"x":0.00332,"y":0.00255,"v":1.2},{"x":0.00348,"y":0.00249,"v":1.55},{"x":0.00365,"y":0.00284,"v":1.35},{"x":0.00325,"y":0.00211,"v":0.15},{"x":0.00321,"y":0.00145,"v":0.9},{"x":0.00321,"y":0.00108,"v":1.2},{"x":0.00365,"y":0.00227,"v":0.35},{"x":0.00403,"y":0.00337,"v":1.35},{"x":0.00414,"y":0.00304,"v":0.62},{"x":0.00431,"y":0.00337,"v":1.35},{"x":0.00409,"y":0.00168,"v":0.62},{"x":0.00457,"y":0.00222,"v":0.35},{"x":0.00484,"y":0.00244,"v":1.35},{"x":0.00469,"y":0.00366,"v":0.9},{"x":0.00502,"y":0.00366,"v":0.9},{"x":0.00495,"y":0.0031,"v":0.35},{"x":0.00508,"y":0.00317,"v":0.15},{"x":0.0049,"y":0.00163,"v":0.85},{"x":0.00535,"y":0.0009,"v":0.35},{"x":0.00546,"y":0.00222,"v":1.0},{"x":0.00579,"y":0.00244,"v":0.62},{"x":0.00589,"y":0.00222,"v":0.35},{"x":0.00612,"y":0.00277,"v":0.15},{"x":0.00622,"y":0.0026,"v":1.35},{"x":0.00634,"y":0.00271,"v":1.2},{"x":0.00673,"y":0.00255,"v":0.9},{"x":0.00799,"y":0.00315,"v":1.2},{"x":0.00843,"y":0.00255,"v":0.62},{"x":0.00902,"y":0.0024,"v":0.65},{"x":0.00937,"y":0.00284,"v":0.35},{"x":0.00942,"y":0.00376,"v":0.85},{"x":0.00952,"y":0.00361,"v":0.85},{"x":0.00975,"y":0.00106,"v":0.15},{"x":0.00997,"y":0.0031,"v":0.4},{"x":0.01074,"y":0.00416,"v":0.35}
]},
"layer": [
  {"data": {"values": [{}]}, "mark": {"type": "rule", "color": "#808080", "strokeWidth": 2.5}, "encoding": {"y": {"datum": 0.0306, "type": "quantitative", "axis": null, "scale": {"domain": [-0.001406, 0.03193], "nice": false, "zero": false}}}},
  {"data": {"values": [{}]}, "mark": {"type": "rule", "color": "#444444", "strokeWidth": 2}, "encoding": {"y": {"datum": 0, "type": "quantitative", "axis": null}}},
  {"data": {"name": "pts"},
   "mark": {"type": "circle", "size": 15, "opacity": 1},
   "encoding": {
     "x": {"field": "x", "type": "quantitative", "scale": {"domain": [-0.01749, 0.01749], "nice": false, "zero": false}, "axis": {"orient": "bottom", "values": [-0.01, 0, 0.01], "labelExpr": "'' + datum.value", "title": "D/m", "ticks": false, "tickSize": 0, "grid": true, "gridColor": "black", "gridWidth": 2.5, "gridOpacity": 1, "gridDash": [12, 481], "labelPadding": 10, "titlePadding": 2}},
     "y": {"field": "y", "type": "quantitative", "axis": {"orient": "left", "values": [0, 0.002, 0.004, 0.006, 0.008, 0.01, 0.012, 0.014, 0.016, 0.018, 0.02, 0.022, 0.024, 0.026, 0.028, 0.03], "labelExpr": "'' + datum.value", "title": "H/S", "ticks": false, "tickSize": 0, "grid": true, "gridColor": "black", "gridWidth": 2.5, "gridOpacity": 1, "gridDash": [12, 506], "labelPadding": 10, "titlePadding": 12, "titleY": 262}},
     "color": {"field": "v", "type": "quantitative",
       "scale": {"domain": [0.02, 0.2, 0.4, 0.6, 0.7, 0.8, 1.0, 1.2, 1.4, 1.6, 1.79], "range": ["#00006e", "#0000e6", "#0a64ff", "#00b4ff", "#00eeff", "#30ffc0", "#90f070", "#ffff00", "#ff8000", "#ff0000", "#800000"], "interpolate": "rgb"},
       "legend": {"orient": "none", "legendX": 575, "legendY": 86, "title": null, "direction": "vertical", "gradientLength": 381, "gradientThickness": 25, "gradientStrokeColor": "black", "gradientStrokeWidth": 1.5, "values": [0.2, 0.4, 0.6, 0.8, 1, 1.2, 1.4, 1.6], "format": "~g", "labelFont": "DejaVu Sans", "labelFontSize": 21, "labelColor": "black", "labelOffset": 15, "labelOverlap": false}}
   }},
  {"data": {"values": [{}]}, "mark": {"type": "text", "text": "▲ 1.79", "align": "left", "baseline": "middle", "font": "DejaVu Sans", "fontSize": 21, "color": "black"},
   "encoding": {
     "x": {"datum": 0.01842, "type": "quantitative", "axis": null},
     "y": {"datum": 0.02948, "type": "quantitative", "axis": null}
   }},
  {"data": {"values": [{}]}, "mark": {"type": "text", "text": "▼ 0.02", "align": "left", "baseline": "middle", "font": "DejaVu Sans", "fontSize": 21, "color": "black"},
   "encoding": {
     "x": {"datum": 0.01842, "type": "quantitative", "axis": null},
     "y": {"datum": -0.00061, "type": "quantitative", "axis": null}
   }}
]
}
